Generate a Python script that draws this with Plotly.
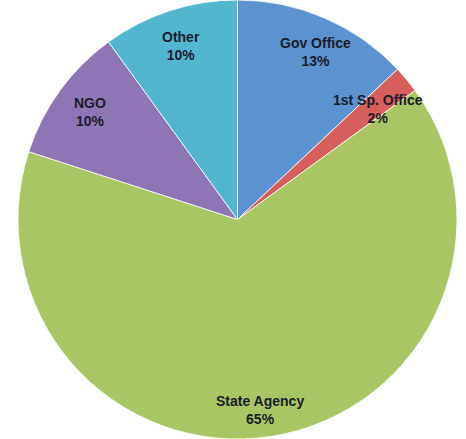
import math
import plotly.graph_objects as go

# Share of responses by organisation type
categories = ["Gov Office", "1st Sp. Office", "State Agency", "NGO", "Other"]
shares = [13, 2, 65, 10, 10]
colors = ["#5B93D1", "#D65F5C", "#A8C764", "#8E75B5", "#52B6D0"]

W, H = 466, 439
dom_x = [0.0193, 1.0]
dom_y = [0.0, 1.0]

fig = go.Figure(
    go.Pie(
        labels=categories,
        values=shares,
        sort=False,
        direction="clockwise",
        rotation=0,
        marker=dict(colors=colors, line=dict(color="rgba(255,255,255,0.8)", width=1)),
        textinfo="none",
        hoverinfo="label+percent",
        showlegend=False,
        domain=dict(x=dom_x, y=dom_y),
    )
)

# Label placement: fraction of the radius along the slice's mid-angle,
# plus a small horizontal nudge in pixels
radial_pos = {"Gov Office": 0.83, "1st Sp. Office": 0.79, "State Agency": 0.88,
              "NGO": 0.83, "Other": 0.83}
nudge_x = {"Gov Office": 6, "1st Sp. Office": 7, "State Agency": -8,
           "NGO": 0, "Other": 0}
cx = (dom_x[0] + dom_x[1]) / 2 * W
cy = (dom_y[0] + dom_y[1]) / 2 * H
R = min((dom_x[1] - dom_x[0]) * W, (dom_y[1] - dom_y[0]) * H) / 2
total = sum(shares)
cum = 0.0
annotations = []
for name, v in zip(categories, shares):
    mid = (cum + v / 2) / total * 2 * math.pi
    cum += v
    r = radial_pos[name] * R
    px = cx + r * math.sin(mid) + nudge_x[name]
    py = cy + r * math.cos(mid)
    pct = round(v / total * 100)
    annotations.append(dict(
        x=px / W, y=py / H, xref="paper", yref="paper",
        xanchor="center", yanchor="middle",
        text=f"<b>{name}</b><br><b>{pct}%</b>",
        showarrow=False, align="center",
        font=dict(family="Liberation Sans, Arial, sans-serif", size=14, color="#1C1C2A"),
    ))

fig.update_layout(
    width=W, height=H,
    margin=dict(l=0, r=0, t=0, b=0),
    paper_bgcolor="white",
    plot_bgcolor="white",
    annotations=annotations,
    font=dict(family="Liberation Sans, Arial, sans-serif"),
)

fig.write_html("out.html")
